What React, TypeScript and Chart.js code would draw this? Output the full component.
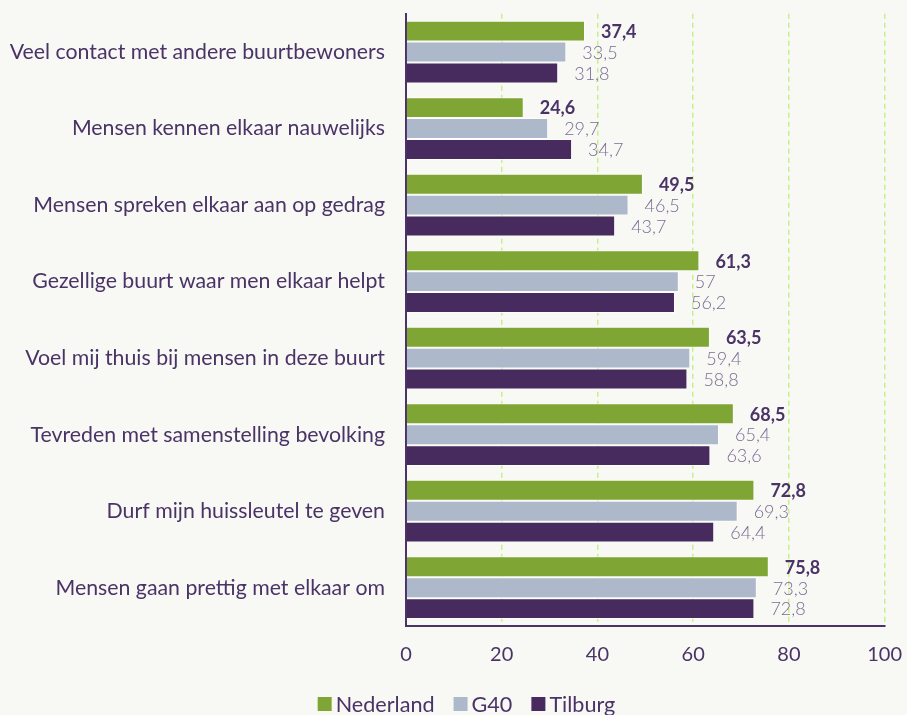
import React, { useEffect, useRef } from "react";
import { Chart, registerables } from "chart.js";

Chart.register(...registerables);

const categories = [
  "Veel contact met andere buurtbewoners",
  "Mensen kennen elkaar nauwelijks",
  "Mensen spreken elkaar aan op gedrag",
  "Gezellige buurt waar men elkaar helpt",
  "Voel mij thuis bij mensen in deze buurt",
  "Tevreden met samenstelling bevolking",
  "Durf mijn huissleutel te geven",
  "Mensen gaan prettig met elkaar om",
];
const nederland = [37.4, 24.6, 49.5, 61.3, 63.5, 68.5, 72.8, 75.8];
const g40 = [33.5, 29.7, 46.5, 57, 59.4, 65.4, 69.3, 73.3];
const tilburg = [31.8, 34.7, 43.7, 56.2, 58.8, 63.6, 64.4, 72.8];
const seriesNames = ["Nederland", "G40", "Tilburg"];
const xTicks = [0, 20, 40, 60, 80, 100];

const COLORS = ["#7fa535", "#adb9cb", "#472a5e"];
const DARK = "#4a3366";
const LIGHT = "#7b6b94";
const BG = "#f8f8f4";
const SHIFT = 20;
const EXTRA_W = 12;

const valueLabels = {
  id: "valueLabels",
  afterDatasetsDraw(chart: any) {
    const ctx = chart.ctx;
    ctx.save();
    chart.data.datasets.forEach((ds: any, di: number) => {
      const meta = chart.getDatasetMeta(di);
      meta.data.forEach((el: any, i: number) => {
        const v = ds.data[i];
        const txt = String(v).replace(".", ",");
        ctx.font = (di === 0 ? "bold " : "300 ") + "18px Lato";
        ctx.fillStyle = di === 0 ? DARK : LIGHT;
        ctx.textAlign = "left";
        ctx.textBaseline = "middle";
        ctx.fillText(txt, el.x + 16, el.y + 1);
      });
    });
    ctx.restore();
  },
};

const customLegend = {
  id: "customLegend",
  afterDraw(chart: any) {
    const ctx = chart.ctx;
    ctx.save();
    ctx.font = "21.6px Lato";
    ctx.textBaseline = "middle";
    ctx.textAlign = "left";
    const box = 14;
    const gap = 4;
    const itemGap = 19;
    const widths = seriesNames.map((n) => ctx.measureText(n).width);
    const total = widths.reduce((a, w) => a + box + gap + w, 0) + itemGap * (seriesNames.length - 1);
    let x = (chart.width - EXTRA_W) / 2 + 13 - total / 2;
    const y = 704 + SHIFT;
    seriesNames.forEach((n, i) => {
      ctx.fillStyle = COLORS[i];
      ctx.fillRect(x, y - box / 2, box, box);
      ctx.fillStyle = DARK;
      ctx.fillText(n, x + box + gap, y + 1);
      x += box + gap + widths[i] + itemGap;
    });
    ctx.restore();
  },
};

const bgPlugin = {
  id: "bgFill",
  beforeDraw(chart: any) {
    const ctx = chart.ctx;
    ctx.save();
    ctx.fillStyle = BG;
    ctx.fillRect(0, 0, chart.width, chart.height);
    ctx.restore();
  },
};

export default function App() {
  const ref = useRef<HTMLCanvasElement>(null);
  useEffect(() => {
    if (!ref.current) return;
    const data = [nederland, g40, tilburg];
    const chart = new Chart(ref.current, {
      type: "bar",
      data: {
        labels: categories,
        datasets: seriesNames.map((name, i) => ({
          label: name,
          data: data[i],
          backgroundColor: COLORS[i],
          borderColor: "rgba(255,255,255,0.7)",
          borderWidth: 1,
          categoryPercentage: 0.82,
          barPercentage: 1,
        })),
      },
      options: {
        indexAxis: "y",
        responsive: false,
        animation: false,
        layout: { padding: { top: 12, right: 10, left: 0, bottom: 31 } },
        plugins: {
          legend: { display: false },
          tooltip: { enabled: false },
        },
        scales: {
          x: {
            min: 0,
            max: 100,
            afterBuildTicks: (s: any) => {
              s.ticks = xTicks.map((v) => ({ value: v }));
            },
            afterFit: (s: any) => {
              s.height = 58;
            },
            border: { display: true, color: DARK, width: 2, dash: [5, 4] },
            grid: {
              color: (c: any) => (c.tick && c.tick.value === 0 ? "rgba(0,0,0,0)" : "#c5f08a"),
              lineWidth: 1.5,
              drawTicks: false,
            },
            ticks: {
              font: { family: "Lato", size: 20 },
              color: DARK,
              padding: 17,
            },
          },
          y: {
            afterFit: (s: any) => {
              s.width = 406;
            },
            border: { display: true, color: DARK, width: 2 },
            grid: { display: false, drawTicks: false },
            ticks: {
              font: { family: "Lato", size: 21.3 },
              color: DARK,
              padding: 21,
            },
          },
        },
      },
      plugins: [bgPlugin, valueLabels, customLegend],
    } as any);
    return () => chart.destroy();
  }, []);
  return (
    <div style={{ position: "fixed", left: 0, top: 0, width: 907, height: 715, overflow: "hidden", background: BG }}>
      <canvas
        ref={ref}
        width={907 + EXTRA_W}
        height={715 + SHIFT}
        style={{ position: "absolute", left: 0, top: -SHIFT }}
      />
    </div>
  );
}
